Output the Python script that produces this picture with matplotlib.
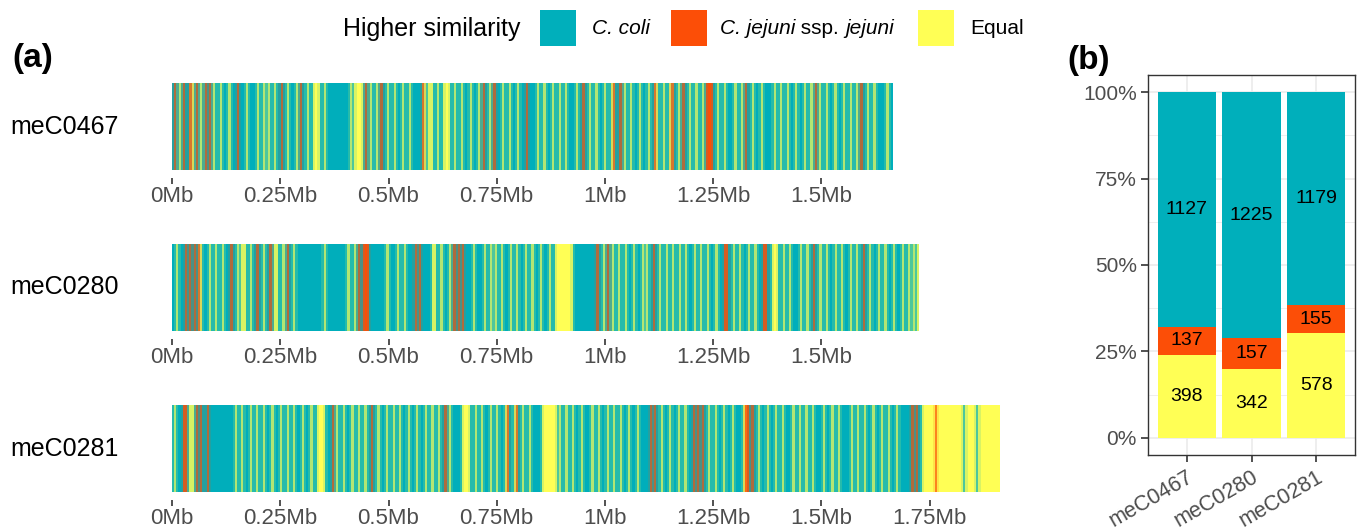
import numpy as np
import matplotlib.pyplot as plt
from matplotlib.colors import to_rgb
from matplotlib.patches import Rectangle

plt.rcParams['font.family'] = ['Liberation Sans', 'DejaVu Sans']

genomes = ["meC0467", "meC0280", "meC0281"]
genome_mb = [1.663, 1.725, 1.912]

# 5 kb windows: c = C. coli, j = C. jejuni ssp. jejuni, e = equal
track_0467 = (
    "cjcecjccjecjcecjcjce" "ccecccecccjcccecccceccec" "e" "cceccjccecccecjccecce" "ee"
    "ccecccccccccccec" "eeee" "cjceccecjcceccec" "cceccecccccjeceeccecc" "eee"
    "cceccecccecccec" "jccecjcc" "ceccecccecccjcccceccecccecce" "ccecccceccjcceccecccecce"
    "jccjc" "eccecccecccec" "cjec" "ceccejccecjc" "cecceccec" "jjj"
    "cceccecccc" "eccecjccec" "ccecccccec" "ceccecccec" "c"
    "ceccecjcec" "ceccceccce" "cceccecj"
    "cceccecccccecc"
)
track_0280 = (
    "ccecccjcjcjcjecccecc" "eccecccjccec" "ee" "cceccjcceccj" "cee" "ccecjcce"
    "cccccccccccccecccccccccc" "e" "ccecjc" "jjj" "ccccccccecccceccecccc" "jcj" "ccccc"
    "ee" "ccecccecj" "cjcj" "cccceccccecc" "e" "ceccecccecceccceccecccecccecc"
    "eeeeeeee" "cccccccccccj" "ccecj" "cecceccecccecccece" "ccjcceccecc"
    "ecceccecccecceccecccecccj" "jcceccecccecceccc" "jj" "cc" "eee"
    "cceccecccc" "ecceccjcce" "ccecccecce" "cccecceccj" "ccecccecce" "cccecccecc" "ecece"
)
track_0281 = (
    "ceccc" "jj" "cee" "cjcjccjc" "cccccccccc" "ceccecccecceccecccecccecceccecccecccecc"
    "eeee" "ccc" "j" "ceccecccecceccecc" "j" "ccecccecceccecccecccecccecceccecc" "jc"
    "ecccc" "c" "eeee" "cceccecccec" "cecccejccej" "cceccecccc" "c" "eeeeeee"
    "cecceccecc" "ceccccecce" "cccecceccec" "ccecccecccc" "cjcjc" "cecccecccecceccc" "jcjcj"
    "cceccecccecccecc" "ccejj"
    "cjccecccec" "cceccecccc" "ecceccecce" "ccccecccec" "cecccccecc" "eccecccecc"
    "ceccecccec" "cccc" "cjcjcc" "eeeeeejeeeeeeeeeeeeceeeeeceeeeeeeeee"
)
tracks = [track_0467, track_0280, track_0281]

coli_n = [1127, 1225, 1179]
jejuni_n = [137, 157, 155]
equal_n = [398, 342, 578]

col_coli = "#00AFBB"
col_jej = "#FC4E07"
col_eq = "#FFFF55"
cat_rgb = {"c": to_rgb(col_coli), "j": to_rgb(col_jej), "e": to_rgb(col_eq)}

W, H = 1360, 529
fig = plt.figure(figsize=(W / 100, H / 100), dpi=100)
renderer = fig.canvas.get_renderer()


def px_axes(x0, y0, x1, y1):
    return fig.add_axes([x0 / W, 1 - y1 / H, (x1 - x0) / W, (y1 - y0) / H])


def track_colours(seq):
    # thin windows bleed a little into their neighbours, as in the original render
    rgb = np.array([cat_rgb[ch] for ch in seq])
    pad = np.vstack([rgb[:1], rgb, rgb[-1:]])
    return 0.15 * pad[:-2] + 0.7 * pad[1:-1] + 0.15 * pad[2:]


def mixed_text(x_px, y_px, parts, size):
    # place text pieces one after another, each with its own style
    for txt, style in parts:
        t = fig.text(x_px / W, 1 - y_px / H, txt, fontsize=size, style=style,
                     ha="left", va="center")
        x_px = t.get_window_extent(renderer).x1


grey30 = "#4D4D4D"
grey20 = "#333333"

# panel (a): genome tracks
track_tops = [83, 244, 405]
track_h = 87
for name, seq, length, top in zip(genomes, tracks, genome_mb, track_tops):
    gap = 8
    ax = px_axes(172, top, 172 + 433 * genome_mb[-1], top + track_h + gap)
    rgb = track_colours(seq)[None, :, :]
    ax.imshow(rgb, extent=[0, length, 0, 1], aspect="auto", interpolation="nearest")
    ax.set_xlim(0, genome_mb[-1])
    ax.set_ylim(-gap / track_h, 1)
    for s in ax.spines.values():
        s.set_visible(False)
    ticks = np.arange(0, length + 1e-9, 0.25)
    ax.set_xticks(ticks)
    ax.set_xticklabels([f"{t:g}Mb" for t in ticks], fontsize=16, color=grey30)
    ax.tick_params(axis="x", length=4, width=1.2, color=grey20, pad=2)
    ax.set_yticks([])
    fig.text(10 / W, 1 - (top + track_h / 2) / H, name, fontsize=18,
             ha="left", va="center", color="black")

fig.text(12 / W, 1 - 58 / H, "(a)", fontsize=24, fontweight="bold", ha="left", va="center")
fig.text(1067 / W, 1 - 60 / H, "(b)", fontsize=24, fontweight="bold", ha="left", va="center")

# legend
ly = 29
fig.text(343 / W, 1 - ly / H, "Higher similarity", fontsize=18, ha="left", va="center")
legend_items = [
    (col_coli, 540, [("C. coli", "italic")], 592),
    (col_jej, 671, [("C. jejuni", "italic"), (" ssp. ", "normal"), ("jejuni", "italic")], 720),
    (col_eq, 918, [("Equal", "normal")], 970),
]
for col, bx, parts, tx in legend_items:
    fig.patches.append(Rectangle((bx / W, 1 - 46 / H), 36 / W, 36 / H,
                                 transform=fig.transFigure, facecolor=col, edgecolor="none"))
    mixed_text(tx, ly, parts, 15)

# panel (b): stacked proportions
axb = px_axes(1148, 75, 1355, 455)
x = np.arange(1, len(genomes) + 1)
tot = np.array(coli_n) + np.array(jejuni_n) + np.array(equal_n)
f_eq = np.array(equal_n) / tot
f_je = np.array(jejuni_n) / tot
f_co = np.array(coli_n) / tot
axb.bar(x, f_eq, width=0.9, color=col_eq, zorder=2)
axb.bar(x, f_je, bottom=f_eq, width=0.9, color=col_jej, zorder=2)
axb.bar(x, f_co, bottom=f_eq + f_je, width=0.9, color=col_coli, zorder=2)
for i in range(len(x)):
    axb.text(x[i], f_eq[i] / 2, str(equal_n[i]), ha="center", va="center", fontsize=14, zorder=3)
    axb.text(x[i], f_eq[i] + f_je[i] / 2, str(jejuni_n[i]), ha="center", va="center",
             fontsize=14, zorder=3)
    axb.text(x[i], f_eq[i] + f_je[i] + f_co[i] / 2, str(coli_n[i]), ha="center", va="center",
             fontsize=14, zorder=3)
axb.set_xlim(0.4, 3.6)
axb.set_ylim(-0.05, 1.05)
axb.set_yticks([0, 0.25, 0.5, 0.75, 1])
axb.set_yticklabels(["0%", "25%", "50%", "75%", "100%"], fontsize=15, color=grey30)
axb.set_yticks([0.125, 0.375, 0.625, 0.875], minor=True)
axb.set_xticks(x)
axb.set_xticklabels(genomes, fontsize=15.5, color=grey30, rotation=30, ha="right",
                    rotation_mode="anchor")
axb.grid(True, which="major", color="#EBEBEB", linewidth=1.2, zorder=0)
axb.grid(True, which="minor", axis="y", color="#EBEBEB", linewidth=0.6, zorder=0)
axb.set_axisbelow(True)
axb.tick_params(axis="both", which="major", length=5, width=1.2, color=grey20, pad=3)
axb.tick_params(axis="y", which="minor", length=0)
for s in axb.spines.values():
    s.set_color(grey20)
    s.set_linewidth(1.0)

fig.savefig("out.png", dpi=100)
